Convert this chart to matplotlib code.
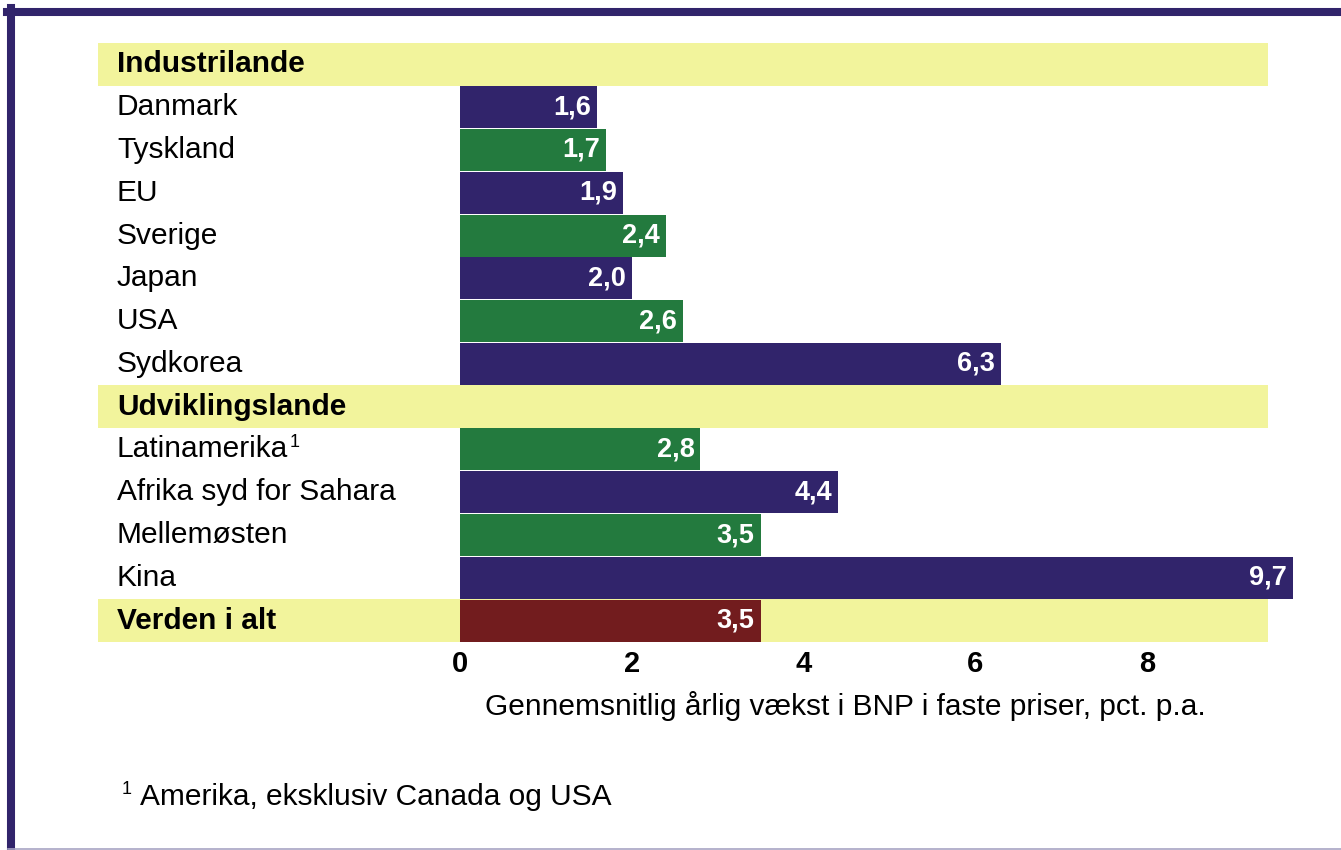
import matplotlib
matplotlib.use("Agg")
from matplotlib import pyplot as plt
from matplotlib.lines import Line2D
import numpy as np

# data
group_names = ["Industrilande", "Udviklingslande"]
industri = ["Danmark", "Tyskland", "EU", "Sverige", "Japan", "USA", "Sydkorea"]
industri_vals = [1.6, 1.7, 1.9, 2.4, 2.0, 2.6, 6.3]
udvikling = ["Latinamerika", "Afrika syd for Sahara", "Mellemøsten", "Kina"]
udvikling_vals = [2.8, 4.4, 3.5, 9.7]
world_label = "Verden i alt"
world_val = 3.5
xticks = [0, 2, 4, 6, 8]
xlabel = "Gennemsnitlig årlig vækst i BNP i faste priser, pct. p.a."
footnote = "Amerika, eksklusiv Canada og USA"

purple = "#31246b"
green = "#237a3e"
red = "#721c1e"
yellow = "#f2f49c"

plt.rcParams["font.family"] = ["Liberation Sans", "DejaVu Sans"]

W, H = 1341, 850
fig = plt.figure(figsize=(W / 100, H / 100), dpi=100)

# axes placed in pixels: 0 at x=460, 8 at x=1147
px_per_unit = (1147 - 460) / 8
ax_left, ax_right = 98, 1300
xmin = (ax_left - 460) / px_per_unit
xmax = (ax_right - 460) / px_per_unit
top, bottom = 43, 642
ax = fig.add_axes([ax_left / W, 1 - bottom / H, (ax_right - ax_left) / W, (bottom - top) / H])

# build rows
rows = []  # (label, value, kind)
rows.append((group_names[0], None, "header"))
for c, v in zip(industri, industri_vals):
    rows.append((c, v, "bar"))
rows.append((group_names[1], None, "header"))
for c, v in zip(udvikling, udvikling_vals):
    rows.append((c, v, "bar"))
rows.append((world_label, world_val, "total"))

fs = 21.5
band_right = (1268 - 460) / px_per_unit
label_x = xmin + (117 - ax_left) / px_per_unit
bar_colors = [purple, green]
k = 0
for i, (lab, val, kind) in enumerate(rows):
    if kind in ("header", "total"):
        ax.barh(i, band_right - xmin, left=xmin, height=1.0, color=yellow, zorder=1)
        t = ax.text(label_x, i, lab, ha="left", va="center", fontsize=fs, fontweight="bold", zorder=3)
    else:
        t = ax.text(label_x, i, lab, ha="left", va="center", fontsize=fs, zorder=3)
    if lab == "Latinamerika":
        # footnote marker after the label
        ax.annotate("1", xy=(1, 1), xycoords=t, xytext=(1, 1), textcoords="offset points",
                    ha="left", va="top", fontsize=13)
    if val is not None:
        if kind == "total":
            col = red
        else:
            col = bar_colors[k % 2]
            k += 1
        ax.barh(i, val, left=0, height=0.98, color=col, zorder=2)
        ax.text(val - 0.07, i, f"{val:.1f}".replace(".", ","), ha="right", va="center",
                color="white", fontsize=19.5, fontweight="bold", zorder=4)

ax.set_xlim(xmin, xmax)
ax.set_ylim(len(rows) - 0.5, -0.5)
for s in ax.spines.values():
    s.set_visible(False)
ax.set_yticks([])
ax.set_xticks(xticks)
ax.set_xticklabels([str(t) for t in xticks], fontsize=21, fontweight="bold")
ax.tick_params(axis="x", length=0, pad=6)
ax.set_xlabel(xlabel, fontsize=fs)
ax.xaxis.set_label_coords((845 - ax_left) / (ax_right - ax_left), -(706 - bottom) / (bottom - top))
ax.xaxis.label.set_va("center")

fig.text(122 / W, 1 - 789 / H, "1", fontsize=13, va="center", ha="left")
fig.text(140 / W, 1 - 797 / H, footnote, fontsize=fs, va="center", ha="left")

# frame
fig.add_artist(Line2D([11 / W, 11 / W], [0, 1 - 8 / H], color=purple, lw=5.8, transform=fig.transFigure))
fig.add_artist(Line2D([7 / W, 1], [1 - 12 / H, 1 - 12 / H], color=purple, lw=5.8, transform=fig.transFigure))
fig.add_artist(Line2D([8 / W, 1], [1.5 / H, 1.5 / H], color="#a8a4c4", lw=1.2, transform=fig.transFigure))

fig.savefig("out.png", dpi=100)
